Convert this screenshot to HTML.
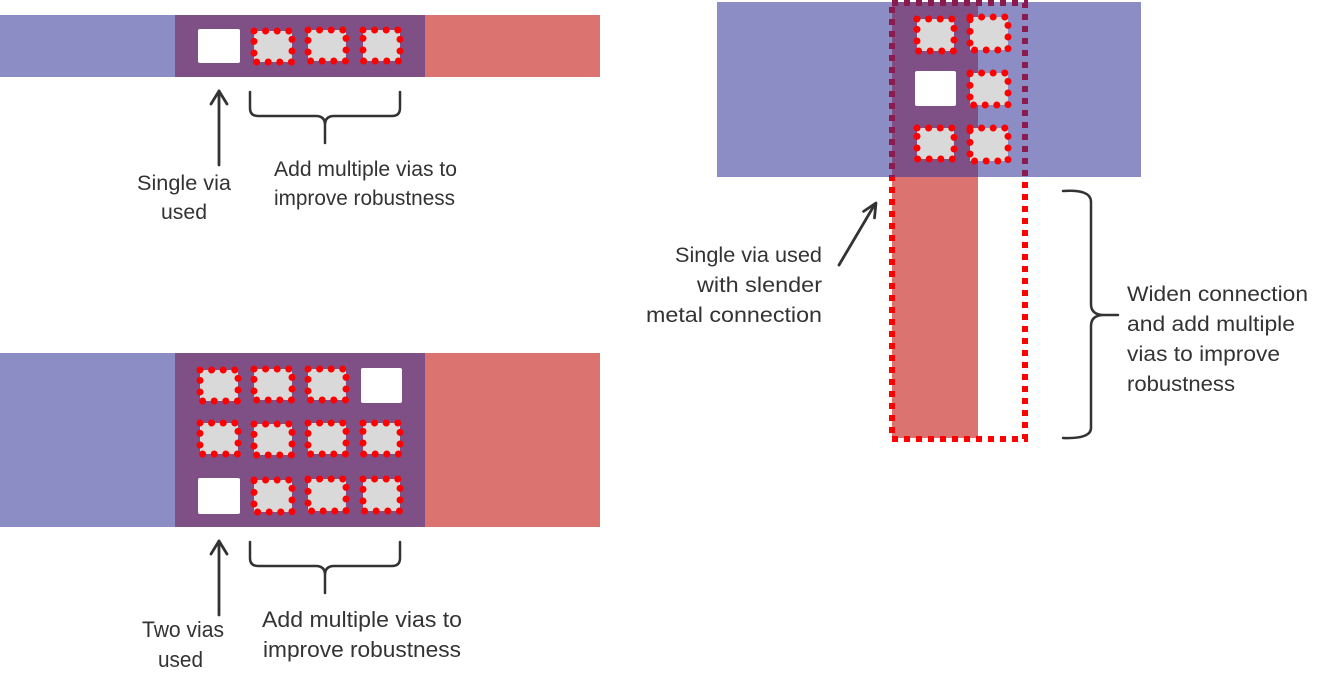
<!DOCTYPE html>
<html>
<head>
<meta charset="utf-8">
<style>
html,body{margin:0;padding:0;background:#fff;}
svg{display:block;}
text{font-family:"Liberation Sans",Arial,sans-serif;font-size:21px;fill:#333;}
</style>
</head>
<body>
<svg width="1337" height="689" viewBox="0 0 1337 689" xmlns="http://www.w3.org/2000/svg">
<defs>
<clipPath id="band"><rect x="700" y="0" width="460" height="177"/></clipPath>
</defs>

<!-- TOP LEFT BAR -->
<rect x="0" y="15" width="175" height="62" fill="#8c8dc4"/>
<rect x="175" y="15" width="250" height="62" fill="#7e5086"/>
<rect x="425" y="15" width="175" height="62" fill="#db7370"/>
<rect x="198" y="29" width="42" height="34" rx="2" fill="#fff"/>
<g fill="#d9d9d9" stroke="#ff0000" stroke-width="7" stroke-linecap="round" stroke-dasharray="0 11.6">
<rect x="254" y="31" width="38" height="31"/>
<rect x="308" y="30" width="38" height="31"/>
<rect x="363" y="30" width="37" height="31"/>
</g>

<!-- BOTTOM LEFT BAR -->
<rect x="0" y="353" width="175" height="174" fill="#8c8dc4"/>
<rect x="175" y="353" width="250" height="174" fill="#7e5086"/>
<rect x="425" y="353" width="175" height="174" fill="#db7370"/>
<rect x="361" y="368" width="41" height="35" rx="2" fill="#fff"/>
<rect x="198" y="478" width="42" height="36" rx="2" fill="#fff"/>
<g fill="#d9d9d9" stroke="#ff0000" stroke-width="7" stroke-linecap="round" stroke-dasharray="0 11.6">
<rect x="200" y="370" width="38" height="31"/>
<rect x="254" y="369" width="38" height="31"/>
<rect x="308" y="369" width="38" height="31"/>
<rect x="200" y="423" width="38" height="31"/>
<rect x="254" y="424" width="38" height="31"/>
<rect x="308" y="423" width="38" height="31"/>
<rect x="363" y="423" width="37" height="31"/>
<rect x="254" y="480" width="38" height="32"/>
<rect x="308" y="479" width="38" height="32"/>
<rect x="363" y="479" width="37" height="32"/>
</g>

<!-- RIGHT FIGURE -->
<rect x="892" y="2" width="86" height="436" fill="#db7370"/>
<rect x="717" y="2" width="424" height="175" fill="#8c8dc4"/>
<rect x="892" y="2" width="86" height="175" fill="#7e5086"/>
<rect x="915" y="71" width="41" height="35" rx="2" fill="#fff"/>
<g fill="#d9d9d9" stroke="#ff0000" stroke-width="7" stroke-linecap="round" stroke-dasharray="0 11.6">
<rect x="917" y="19" width="37" height="32"/>
<rect x="970" y="17" width="38" height="33"/>
<rect x="970" y="73" width="38" height="32"/>
<rect x="917" y="128" width="37" height="31"/>
<rect x="970" y="128" width="38" height="33"/>
</g>
<rect x="892" y="3" width="133" height="436" fill="none" stroke="#ff0000" stroke-width="6" stroke-dasharray="6 6"/>
<rect x="892" y="3" width="133" height="436" fill="none" stroke="#8b1a4f" stroke-width="6" stroke-dasharray="6 6" clip-path="url(#band)"/>

<!-- ARROWS & BRACES -->
<g fill="none" stroke="#333" stroke-width="2.8" stroke-linecap="round" stroke-linejoin="round">
<line x1="219" y1="91" x2="219" y2="165"/>
<polyline points="211,104 219,91 227,104"/>
<line x1="219" y1="541" x2="219" y2="615"/>
<polyline points="211,554 219,541 227,554"/>
<line x1="839" y1="265" x2="875" y2="204"/>
<polyline points="863.6,211.4 876,203 874.5,217.9"/>
</g>
<g fill="none" stroke="#333" stroke-width="2.5" stroke-linecap="round" stroke-linejoin="round">
<path d="M250,92 L250,108 Q250,116 258,116 L316,116 Q325,116 325,125 L325,143 M325,125 Q325,116 334,116 L392,116 Q400,116 400,108 L400,92"/>
<path d="M250,542 L250,558 Q250,566 258,566 L316,566 Q325,566 325,575 L325,593 M325,575 Q325,566 334,566 L392,566 Q400,566 400,558 L400,542"/>
<path d="M1063,191 Q1091,189 1091,202 L1091,304 Q1091,315 1104,315 L1118,315 M1104,315 Q1091,315 1091,326 L1091,428 Q1091,439 1063,438"/>
</g>

<!-- TEXT -->
<text x="137" y="190" textLength="94" lengthAdjust="spacingAndGlyphs">Single via</text>
<text x="161" y="219" textLength="46" lengthAdjust="spacingAndGlyphs">used</text>
<text x="274" y="176" textLength="183" lengthAdjust="spacingAndGlyphs">Add multiple vias to</text>
<text x="274" y="205" textLength="181" lengthAdjust="spacingAndGlyphs">improve robustness</text>

<text x="142" y="637" style="font-size:22px" textLength="82" lengthAdjust="spacingAndGlyphs">Two vias</text>
<text x="158" y="667" style="font-size:22px" textLength="45" lengthAdjust="spacingAndGlyphs">used</text>
<text x="262" y="627" style="font-size:22px" textLength="200" lengthAdjust="spacingAndGlyphs">Add multiple vias to</text>
<text x="263" y="657" style="font-size:22px" textLength="198" lengthAdjust="spacingAndGlyphs">improve robustness</text>

<text x="675" y="262" textLength="147" lengthAdjust="spacingAndGlyphs">Single via used</text>
<text x="697" y="292" textLength="125" lengthAdjust="spacingAndGlyphs">with slender</text>
<text x="646" y="322" textLength="176" lengthAdjust="spacingAndGlyphs">metal connection</text>

<text x="1127" y="301" textLength="181" lengthAdjust="spacingAndGlyphs">Widen connection</text>
<text x="1127" y="331" textLength="168" lengthAdjust="spacingAndGlyphs">and add multiple</text>
<text x="1127" y="361" textLength="153" lengthAdjust="spacingAndGlyphs">vias to improve</text>
<text x="1127" y="391" textLength="108" lengthAdjust="spacingAndGlyphs">robustness</text>
</svg>
</body>
</html>
